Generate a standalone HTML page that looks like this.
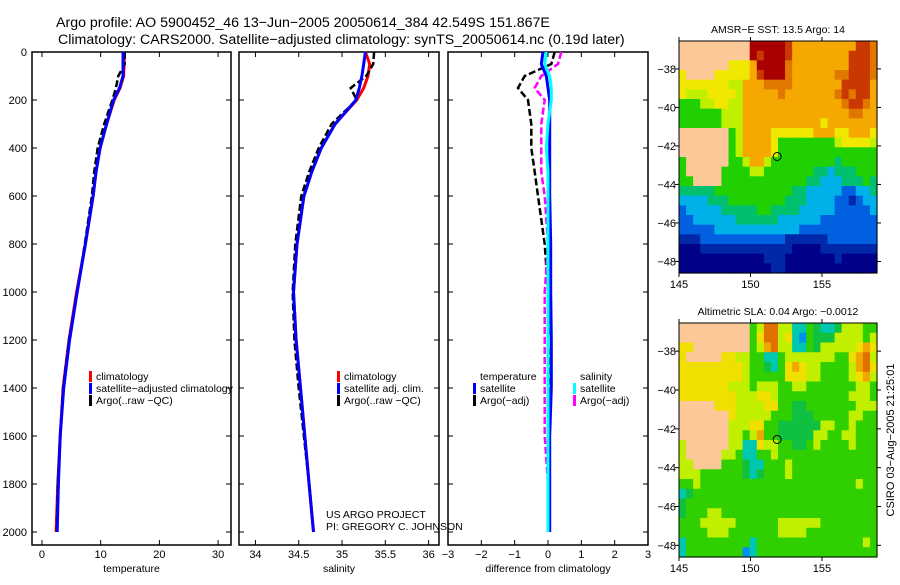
<!DOCTYPE html>
<html><head><meta charset="utf-8"><style>
html,body{margin:0;padding:0;background:#fff;}
svg text{font-family:"Liberation Sans",sans-serif;fill:#000;}
</style></head><body>
<svg id="fig" width="900" height="580" viewBox="0 0 900 580" xmlns="http://www.w3.org/2000/svg">
<text x="56" y="27" font-size="14.2">Argo profile: AO 5900452_46 13−Jun−2005 20050614_384 42.549S 151.867E</text>
<text x="58" y="44" font-size="14.2">Climatology: CARS2000. Satellite−adjusted climatology: synTS_20050614.nc (0.19d later)</text>
<g id="plots"></g>
</svg>
<script>
// ---- data ----
const depths = [0,50,100,150,200,300,400,500,600,800,1000,1200,1400,1600,1800,2000];
const tempClim = [14.0,14.0,13.9,13.3,12.3,11.0,9.9,9.2,8.7,7.4,5.9,4.6,3.6,3.1,2.7,2.4];
const tempSat  = [13.8,13.8,13.8,13.2,12.2,11.0,9.9,9.2,8.7,7.4,6.0,4.7,3.7,3.1,2.8,2.6];
const tempArgo = [14.1,14.1,13.0,12.6,12.0,10.6,9.5,8.9,8.5,7.3,6.0,4.6,3.6,3.1,2.7,2.5];
const salClim = [35.27,35.32,35.30,35.25,35.17,34.92,34.76,34.65,34.56,34.48,34.44,34.47,34.52,34.57,34.62,34.67];
const salSat  = [35.27,35.25,35.23,35.20,35.16,34.92,34.76,34.65,34.56,34.48,34.44,34.47,34.52,34.57,34.62,34.67];
const salArgo = [35.37,35.36,35.28,35.10,35.17,34.88,34.73,34.62,34.53,34.46,34.43,34.45,34.50,34.56,34.62,34.67];
const dTempSat  = [-0.15,-0.2,-0.05,0.0,0.05,0.05,0.05,0.05,0.05,0.08,0.08,0.1,0.1,0.05,0.05,0.05];
const dSalSat   = [-0.05,-0.1,0.05,0.1,0.1,0.0,-0.05,0.0,0.0,0.0,0.0,0.0,0.0,0.0,0.0,0.0];
const dTempArgo = [0.2,0.1,-0.7,-0.9,-0.6,-0.5,-0.5,-0.4,-0.3,-0.1,0.0,0.1,0.05,0.0,0.0,0.0];
const dSalArgo  = [0.4,0.3,-0.2,-0.4,-0.1,-0.2,-0.2,-0.2,-0.1,0.0,-0.1,-0.1,-0.1,-0.1,0.0,0.0];
const depthTicks = [0,200,400,600,800,1000,1200,1400,1600,1800,2000];
const tempTicks = [0,10,20,30];
const salTicks = [34,34.5,35,35.5,36];
const diffTicks = [-3,-2,-1,0,1,2,3];
const lonTicks = [145,150,155];
const latTicks = [-38,-40,-42,-44,-46,-48];

const sstGrid = [
"LLLLLLLLLLDDDDDRoooooooooRRO",
"LLLLLLLLLLDRDDDRooooooooRRRO",
"LLLLLLLYYYoDDDDOooooooooRRRO",
"YLLLLYYYYYoRDDDOooooooOORRRO",
"YYYYYYYyyoooOOOOoooooooRRRRo",
"YyyyYYYYyoooooOoooooooORORRo",
"GGGyyYYyyooooooooooooooORROo",
"GGGGGGyyyoooooooooooooooOOoo",
"GGGGGGyyyoooooooooooYooooooo",
"LLLLLLLGyooooYYYYYYoooYYoooY",
"LLLLLLLGyooooYGGGGGGGGyYYYYy",
"LLLLLLLGyooooYGGGGGGGGGGGGGG",
"GLLLLLLGGyooyGGGGGGGGGgGGGGG",
"GLLLLLGGGGyyGGGGGGGggCgggGGG",
"GGLLLLGGGGGGGGGGGGggCCCgggGg",
"gggggGGGGGGGGGGGggCCCCCBBCCg",
"CCCCgggGGGGGGGGgggCCCCBBbBCC",
"BCCCCCgggggGGggggCCCCCBBBBBC",
"BBCCCCCCggggggCCCCCCBBBBBBBB",
"BBBBBCCCCCCCCCCCCBBBBBBBBBBB",
"bbbBBBBBBBBBBBBbbbbbbBBBBBBB",
"NNNbbbbbbbbbbbbbNNNNbbbbbbbb",
"NNNNNNNNNNNNbbbNNNNNNNbNNNNN",
"NNNNNNNNNNNNNbbNNNNNNNNNNNNN"];
const slaGrid = [
"LLLLLLLLLLGyOOyyCCGgCCgyyyGG",
"LLLLLLLLLLGYOOyYCBGgggyyyyGy",
"YYLLLLLLLLGyoOyyCCGgyyyyyYoY",
"YLLLLLYYyyGGCCGyyyyyyyGGYoOy",
"YYYYYYYYYyGGgCGYoYyyGGGGyoOY",
"YYYYYYYYYyGGGGGYYYyyGGGGyYoy",
"YYYYYYYyyyGyyyGGyyGGGGGGGyyG",
"YYYYYYYYyyyYYyGGGGGGGGGGyyyG",
"LLLLLYYYyyyyYYGGggGGGGGGGyyy",
"LLLLLLLYyyyyyGGGgggGGGGGyyGG",
"LLLLLLLyyyYYGGggggggyyGGyGGG",
"LLLLLLLyyGyoGGgggggyyGGyyGGG",
"yLLLLLLyyCCYyyGGggGyGGGGyGGG",
"yLLLLLyyGCCGGyGGGGGGGGGGGGGG",
"yyLLLLGGGgCCGGGyGGGGGGGGGGGG",
"yyyGGGGGGgCgGGGyGGGGGGGGGGGG",
"GGyGGGGGGGGGGGGGGGGGGGGGGyGG",
"CgGGGGGGGGGGGGGGGGGGGGGGGGGG",
"gGGGGGGGGGGGGGGGGGGGGGGGGGGG",
"gGGGyyGGGGGGGGGGGGGGGGGGGGGG",
"GGGyyyyyGGGGGGyyyyyyGGGGGGGG",
"GGGGyyyGGGGGGGyyyyGGGGGGGGGG",
"CGGGGGGGGGCGGGGGGGGGGGGGGGyG",
"CGGGGGGGGBCGGGGGGGGGGGGGGGGG"];
const argoLon = 151.867, argoLat = -42.549;

const NS = "http://www.w3.org/2000/svg";
const root = document.getElementById('plots');
function mk(tag, attrs, parent){ const e=document.createElementNS(NS,tag); for(const k in attrs) e.setAttribute(k,attrs[k]); (parent||root).appendChild(e); return e; }
function txt(x,y,s,size,anchor,parent){ const t=mk('text',{x:x,y:y,'font-size':size||11,'text-anchor':anchor||'start'},parent); t.textContent=s; return t; }

const yTop=52, yScale=0.24, frameTop=52, frameBot=545;
const yD = d => yTop + d*yScale;

function panel(name, x0, x1, vmin, vmax, ticks, title, showY){
  const g = mk('g',{});
  
  
  const xs = v => x0 + (v - vmin)/(vmax - vmin)*(x1 - x0);
  const fr = mk('rect',{x:x0,y:frameTop,width:x1-x0,height:frameBot-frameTop,fill:'none',stroke:'#000','stroke-width':1.5},g);
  
  
  ticks.forEach(t=>{
    const x=xs(t);
    mk('line',{x1:x,x2:x,y1:frameBot,y2:frameBot-5,stroke:'#000'},g);
    mk('line',{x1:x,x2:x,y1:frameTop,y2:frameTop+5,stroke:'#000'},g);
    const l=txt(x,558,String(t).replace('-','−'),11,'middle',g);
    
    
  });
  depthTicks.forEach(d=>{
    const y=yD(d);
    mk('line',{x1:x0,x2:x0+5,y1:y,y2:y,stroke:'#000'},g);
    mk('line',{x1:x1,x2:x1-5,y1:y,y2:y,stroke:'#000'},g);
    if(showY){ const l=txt(27,y+4,String(d),11,'end',g);
      
       }
  });
  const at=txt((x0+x1)/2,572,title,10.5,'middle',g);
  
  
  return {g, xs};
}
function line(p, vals, color, dashed, nm){
  const pts = vals.map((v,i)=>p.xs(v).toFixed(1)+','+yD(depths[i]).toFixed(1)).join(' ');
  const l = mk('polyline',{points:pts,fill:'none',stroke:color,'stroke-width':dashed?2.5:3,'stroke-dasharray':dashed?'7,3':'none'},p.g);
  
  
}
function legend(g, x, y, color, label, nm){
  if(color){ mk('rect',{x:x,y:y-9,width:3,height:11,fill:color},g); }
  const t=txt(x+7,y,label,10.5,'start',g);
  
  
}

const p1 = panel('temperature',32,231,-1.7,32.2,tempTicks,'temperature',true);
line(p1,tempClim,'#ff0000',false,'temp-climatology-line');
line(p1,tempArgo,'#000',true,'temp-argo-line');
line(p1,tempSat,'#0000ff',false,'temp-satellite-line');
legend(p1.g,89,380,'#ff0000','climatology','legend-climatology');
legend(p1.g,89,392,'#0000ff','satellite−adjusted climatology','legend-satellite');
legend(p1.g,89,404,'#000','Argo(..raw −QC)','legend-argo');

const p2 = panel('salinity',239,439,33.81,36.12,salTicks,'salinity',false);
line(p2,salClim,'#ff0000',false,'sal-climatology-line');
line(p2,salArgo,'#000',true,'sal-argo-line');
line(p2,salSat,'#0000ff',false,'sal-satellite-line');
legend(p2.g,337,380,'#ff0000','climatology','legend-climatology-2');
legend(p2.g,337,392,'#0000ff','satellite adj. clim.','legend-satellite-2');
legend(p2.g,337,404,'#000','Argo(..raw −QC)','legend-argo-2');
const c1=txt(326,518,'US ARGO PROJECT',10.5,'start',p2.g);


const c2=txt(326,530,'PI: GREGORY C. JOHNSON',10.5,'start',p2.g);



const p3 = panel('difference',448,648,-3,3,diffTicks,'difference from climatology',false);
line(p3,dTempArgo,'#000',true,'diff-temp-argo-line');
line(p3,dSalArgo,'#ff00ff',true,'diff-sal-argo-line');
line(p3,dTempSat,'#0000ff',false,'diff-temp-satellite-line');
line(p3,dSalSat,'#00ffff',false,'diff-sal-satellite-line');
legend(p3.g,473,380,null,'temperature','legend-temperature-header');
legend(p3.g,473,392,'#0000ff','satellite','legend-temp-satellite');
legend(p3.g,473,404,'#000','Argo(−adj)','legend-temp-argo');
legend(p3.g,573,380,null,'salinity','legend-salinity-header');
legend(p3.g,573,392,'#00ffff','satellite','legend-sal-satellite');
legend(p3.g,573,404,'#ff00ff','Argo(−adj)','legend-sal-argo');

// ---- maps ----
const sstColors={L:'#fcc898',D:'#a80000',R:'#c83800',O:'#e07800',o:'#f4a800',Y:'#f0e800',y:'#c0f000',G:'#20d000',g:'#00c070',C:'#00b0e8',B:'#0060e0',b:'#0028a8',N:'#000088'};
const slaColors={L:'#fcc898',G:'#30d000',g:'#10c040',y:'#c0f000',Y:'#f0e000',o:'#f0a800',O:'#e07000',C:'#00c8b0',B:'#0090f0'};
function map(name, grid, colors, top, bottom, title){
  const g=mk('g',{});
  
  
  const x0=679,x1=877, lonMin=145, lonMax=158.85;
  const latTop=-36.55, latBot=-48.6;
  const xs=l=>x0+(l-lonMin)/(lonMax-lonMin)*(x1-x0);
  const ys=l=>top+(latTop-l)/(latTop-latBot)*(bottom-top);
  const rows=grid.length, cols=28;
  const cw=(x1-x0)/cols, ch=(bottom-top)/rows;
  grid.forEach((row,j)=>{
    for(let i=0;i<cols;i++){
      const c=row[Math.min(i,row.length-1)];
      mk('rect',{x:(x0+i*cw).toFixed(2),y:(top+j*ch).toFixed(2),width:(cw+0.6).toFixed(2),height:(ch+0.6).toFixed(2),fill:colors[c]},g);
    }
  });
  const fr=mk('rect',{x:x0,y:top,width:x1-x0,height:bottom-top,fill:'none',stroke:'#000','stroke-width':1},g);
  
  
  lonTicks.forEach(l=>{ const x=xs(l);
    mk('line',{x1:x,x2:x,y1:top,y2:top-4,stroke:'#000'},g);
    mk('line',{x1:x,x2:x,y1:bottom,y2:bottom+4,stroke:'#000'},g);
    const t=txt(x,bottom+15,String(l),11,'middle',g);
    
    
  });
  latTicks.forEach(l=>{ const y=ys(l);
    mk('line',{x1:x0,x2:x0-4,y1:y,y2:y,stroke:'#000'},g);
    mk('line',{x1:x1,x2:x1+4,y1:y,y2:y,stroke:'#000'},g);
    const t=txt(676,y+4,String(l).replace('-','−'),11,'end',g);
    
    
  });
  const m=mk('circle',{cx:xs(argoLon),cy:ys(argoLat),r:4,fill:'none',stroke:'#000','stroke-width':1},g);
  
  
  const tt=txt(778,top-8,title,10.5,'middle',g);
  
  
}
map('sst',sstGrid,sstColors,41,273,'AMSR−E SST: 13.5 Argo: 14');
map('sla',slaGrid,slaColors,323,557,'Altimetric SLA: 0.04 Argo: −0.0012');
const st=mk('text',{x:0,y:0,'font-size':11,'text-anchor':'middle',transform:'translate(894,440) rotate(-90)'});
st.textContent='CSIRO 03−Aug−2005 21:25:01';


</script>
</body></html>
